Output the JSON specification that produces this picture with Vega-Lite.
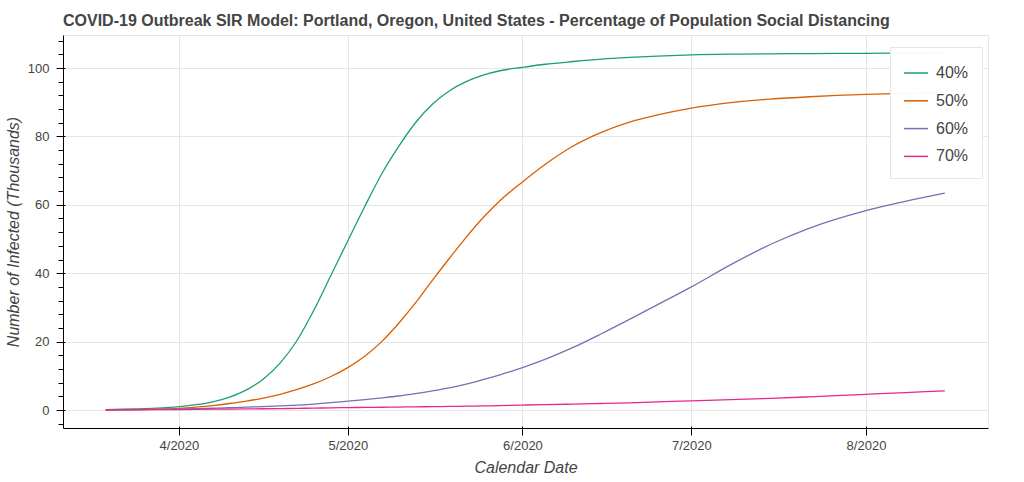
{
  "$schema": "https://vega.github.io/schema/vega-lite/v6.json",
  "width": 925,
  "height": 393,
  "autosize": {"type": "none"},
  "padding": {"left": 63, "top": 35, "right": 36, "bottom": 54},
  "background": "white",
  "config": {"font": "Liberation Sans", "view": {"stroke": "#e5e5e5"}},
  "title": {
    "text": "COVID-19 Outbreak SIR Model: Portland, Oregon, United States - Percentage of Population Social Distancing",
    "anchor": "start",
    "frame": "group",
    "fontSize": 16,
    "fontWeight": "bold",
    "color": "#444444",
    "baseline": "alphabetic",
    "offset": -7
  },
  "datasets": {
    "sir": [
      {"date": "2020/03/19", "pct": "40%", "infected": 0.14},
      {"date": "2020/03/22", "pct": "40%", "infected": 0.22},
      {"date": "2020/03/25", "pct": "40%", "infected": 0.35},
      {"date": "2020/03/28", "pct": "40%", "infected": 0.55},
      {"date": "2020/04/01", "pct": "40%", "infected": 1.0},
      {"date": "2020/04/04", "pct": "40%", "infected": 1.55},
      {"date": "2020/04/07", "pct": "40%", "infected": 2.4},
      {"date": "2020/04/10", "pct": "40%", "infected": 3.8},
      {"date": "2020/04/13", "pct": "40%", "infected": 5.9},
      {"date": "2020/04/16", "pct": "40%", "infected": 9.1},
      {"date": "2020/04/19", "pct": "40%", "infected": 13.8},
      {"date": "2020/04/22", "pct": "40%", "infected": 20.4},
      {"date": "2020/04/25", "pct": "40%", "infected": 29.3},
      {"date": "2020/04/28", "pct": "40%", "infected": 39.4},
      {"date": "2020/05/01", "pct": "40%", "infected": 49.5},
      {"date": "2020/05/04", "pct": "40%", "infected": 59.5},
      {"date": "2020/05/07", "pct": "40%", "infected": 69.0},
      {"date": "2020/05/10", "pct": "40%", "infected": 77.0},
      {"date": "2020/05/13", "pct": "40%", "infected": 84.0},
      {"date": "2020/05/16", "pct": "40%", "infected": 89.4},
      {"date": "2020/05/19", "pct": "40%", "infected": 93.3},
      {"date": "2020/05/22", "pct": "40%", "infected": 96.0},
      {"date": "2020/05/25", "pct": "40%", "infected": 97.9},
      {"date": "2020/05/28", "pct": "40%", "infected": 99.2},
      {"date": "2020/06/01", "pct": "40%", "infected": 100.2},
      {"date": "2020/06/05", "pct": "40%", "infected": 101.1},
      {"date": "2020/06/10", "pct": "40%", "infected": 101.9},
      {"date": "2020/06/15", "pct": "40%", "infected": 102.6},
      {"date": "2020/06/20", "pct": "40%", "infected": 103.1},
      {"date": "2020/06/25", "pct": "40%", "infected": 103.5},
      {"date": "2020/07/01", "pct": "40%", "infected": 103.85},
      {"date": "2020/07/08", "pct": "40%", "infected": 104.05},
      {"date": "2020/07/15", "pct": "40%", "infected": 104.15},
      {"date": "2020/07/22", "pct": "40%", "infected": 104.22},
      {"date": "2020/08/01", "pct": "40%", "infected": 104.3},
      {"date": "2020/08/08", "pct": "40%", "infected": 104.35},
      {"date": "2020/08/15", "pct": "40%", "infected": 104.4},

      {"date": "2020/03/19", "pct": "50%", "infected": 0.05},
      {"date": "2020/03/22", "pct": "50%", "infected": 0.1},
      {"date": "2020/03/25", "pct": "50%", "infected": 0.18},
      {"date": "2020/03/28", "pct": "50%", "infected": 0.3},
      {"date": "2020/04/01", "pct": "50%", "infected": 0.5},
      {"date": "2020/04/04", "pct": "50%", "infected": 0.85},
      {"date": "2020/04/07", "pct": "50%", "infected": 1.3},
      {"date": "2020/04/10", "pct": "50%", "infected": 1.9},
      {"date": "2020/04/13", "pct": "50%", "infected": 2.6},
      {"date": "2020/04/16", "pct": "50%", "infected": 3.5},
      {"date": "2020/04/19", "pct": "50%", "infected": 4.6},
      {"date": "2020/04/22", "pct": "50%", "infected": 6.0},
      {"date": "2020/04/25", "pct": "50%", "infected": 7.7},
      {"date": "2020/04/28", "pct": "50%", "infected": 9.8},
      {"date": "2020/05/01", "pct": "50%", "infected": 12.4},
      {"date": "2020/05/04", "pct": "50%", "infected": 15.7},
      {"date": "2020/05/07", "pct": "50%", "infected": 20.0},
      {"date": "2020/05/10", "pct": "50%", "infected": 25.3},
      {"date": "2020/05/13", "pct": "50%", "infected": 31.3},
      {"date": "2020/05/16", "pct": "50%", "infected": 37.9},
      {"date": "2020/05/19", "pct": "50%", "infected": 44.3},
      {"date": "2020/05/22", "pct": "50%", "infected": 50.5},
      {"date": "2020/05/25", "pct": "50%", "infected": 56.2},
      {"date": "2020/05/28", "pct": "50%", "infected": 61.2},
      {"date": "2020/06/01", "pct": "50%", "infected": 66.7},
      {"date": "2020/06/05", "pct": "50%", "infected": 71.8},
      {"date": "2020/06/10", "pct": "50%", "infected": 77.2},
      {"date": "2020/06/15", "pct": "50%", "infected": 81.2},
      {"date": "2020/06/20", "pct": "50%", "infected": 84.2},
      {"date": "2020/06/25", "pct": "50%", "infected": 86.3},
      {"date": "2020/07/01", "pct": "50%", "infected": 88.3},
      {"date": "2020/07/08", "pct": "50%", "infected": 89.9},
      {"date": "2020/07/15", "pct": "50%", "infected": 90.9},
      {"date": "2020/07/22", "pct": "50%", "infected": 91.6},
      {"date": "2020/08/01", "pct": "50%", "infected": 92.3},
      {"date": "2020/08/08", "pct": "50%", "infected": 92.6},
      {"date": "2020/08/15", "pct": "50%", "infected": 92.8},

      {"date": "2020/03/19", "pct": "60%", "infected": 0.03},
      {"date": "2020/03/22", "pct": "60%", "infected": 0.08},
      {"date": "2020/03/25", "pct": "60%", "infected": 0.13},
      {"date": "2020/03/28", "pct": "60%", "infected": 0.2},
      {"date": "2020/04/01", "pct": "60%", "infected": 0.3},
      {"date": "2020/04/04", "pct": "60%", "infected": 0.4},
      {"date": "2020/04/07", "pct": "60%", "infected": 0.52},
      {"date": "2020/04/10", "pct": "60%", "infected": 0.66},
      {"date": "2020/04/13", "pct": "60%", "infected": 0.82},
      {"date": "2020/04/16", "pct": "60%", "infected": 1.0},
      {"date": "2020/04/19", "pct": "60%", "infected": 1.2},
      {"date": "2020/04/22", "pct": "60%", "infected": 1.45},
      {"date": "2020/04/25", "pct": "60%", "infected": 1.75},
      {"date": "2020/04/28", "pct": "60%", "infected": 2.15},
      {"date": "2020/05/01", "pct": "60%", "infected": 2.6},
      {"date": "2020/05/04", "pct": "60%", "infected": 3.05},
      {"date": "2020/05/07", "pct": "60%", "infected": 3.55},
      {"date": "2020/05/10", "pct": "60%", "infected": 4.1},
      {"date": "2020/05/13", "pct": "60%", "infected": 4.8},
      {"date": "2020/05/16", "pct": "60%", "infected": 5.6},
      {"date": "2020/05/19", "pct": "60%", "infected": 6.5},
      {"date": "2020/05/22", "pct": "60%", "infected": 7.6},
      {"date": "2020/05/25", "pct": "60%", "infected": 8.9},
      {"date": "2020/05/28", "pct": "60%", "infected": 10.3},
      {"date": "2020/06/01", "pct": "60%", "infected": 12.4},
      {"date": "2020/06/05", "pct": "60%", "infected": 14.8},
      {"date": "2020/06/10", "pct": "60%", "infected": 18.3},
      {"date": "2020/06/15", "pct": "60%", "infected": 22.3},
      {"date": "2020/06/20", "pct": "60%", "infected": 26.5},
      {"date": "2020/06/25", "pct": "60%", "infected": 30.8},
      {"date": "2020/07/01", "pct": "60%", "infected": 36.0},
      {"date": "2020/07/08", "pct": "60%", "infected": 42.5},
      {"date": "2020/07/15", "pct": "60%", "infected": 48.4},
      {"date": "2020/07/22", "pct": "60%", "infected": 53.2},
      {"date": "2020/08/01", "pct": "60%", "infected": 58.3},
      {"date": "2020/08/08", "pct": "60%", "infected": 61.0},
      {"date": "2020/08/15", "pct": "60%", "infected": 63.4},

      {"date": "2020/03/19", "pct": "70%", "infected": 0.01},
      {"date": "2020/03/22", "pct": "70%", "infected": 0.04},
      {"date": "2020/03/25", "pct": "70%", "infected": 0.07},
      {"date": "2020/03/28", "pct": "70%", "infected": 0.1},
      {"date": "2020/04/01", "pct": "70%", "infected": 0.15},
      {"date": "2020/04/04", "pct": "70%", "infected": 0.19},
      {"date": "2020/04/07", "pct": "70%", "infected": 0.23},
      {"date": "2020/04/10", "pct": "70%", "infected": 0.28},
      {"date": "2020/04/13", "pct": "70%", "infected": 0.32},
      {"date": "2020/04/16", "pct": "70%", "infected": 0.37},
      {"date": "2020/04/19", "pct": "70%", "infected": 0.42},
      {"date": "2020/04/22", "pct": "70%", "infected": 0.48},
      {"date": "2020/04/25", "pct": "70%", "infected": 0.55},
      {"date": "2020/04/28", "pct": "70%", "infected": 0.62},
      {"date": "2020/05/01", "pct": "70%", "infected": 0.7},
      {"date": "2020/05/04", "pct": "70%", "infected": 0.75},
      {"date": "2020/05/07", "pct": "70%", "infected": 0.8},
      {"date": "2020/05/10", "pct": "70%", "infected": 0.86},
      {"date": "2020/05/13", "pct": "70%", "infected": 0.92},
      {"date": "2020/05/16", "pct": "70%", "infected": 0.98},
      {"date": "2020/05/19", "pct": "70%", "infected": 1.05},
      {"date": "2020/05/22", "pct": "70%", "infected": 1.12},
      {"date": "2020/05/25", "pct": "70%", "infected": 1.2},
      {"date": "2020/05/28", "pct": "70%", "infected": 1.3},
      {"date": "2020/06/01", "pct": "70%", "infected": 1.45},
      {"date": "2020/06/05", "pct": "70%", "infected": 1.55},
      {"date": "2020/06/10", "pct": "70%", "infected": 1.72},
      {"date": "2020/06/15", "pct": "70%", "infected": 1.9},
      {"date": "2020/06/20", "pct": "70%", "infected": 2.1},
      {"date": "2020/06/25", "pct": "70%", "infected": 2.35},
      {"date": "2020/07/01", "pct": "70%", "infected": 2.7},
      {"date": "2020/07/08", "pct": "70%", "infected": 3.05},
      {"date": "2020/07/15", "pct": "70%", "infected": 3.4},
      {"date": "2020/07/22", "pct": "70%", "infected": 3.85},
      {"date": "2020/08/01", "pct": "70%", "infected": 4.6},
      {"date": "2020/08/08", "pct": "70%", "infected": 5.1},
      {"date": "2020/08/15", "pct": "70%", "infected": 5.6}
    ],
    "blank": [{}]
  },
  "layer": [
    {
      "data": {"name": "sir"},
      "mark": {"type": "line", "strokeWidth": 1.3, "interpolate": "monotone"},
      "encoding": {
        "x": {
          "field": "date",
          "type": "temporal",
          "scale": {"domain": [{"year": 2020, "month": 3, "date": 11, "hours": 10}, {"year": 2020, "month": 8, "date": 22, "hours": 16}]},
          "axis": {
            "orient": "bottom",
            "values": [{"year": 2020, "month": 4, "date": 1}, {"year": 2020, "month": 5, "date": 1}, {"year": 2020, "month": 6, "date": 1}, {"year": 2020, "month": 7, "date": 1}, {"year": 2020, "month": 8, "date": 1}],
            "format": "%-m/%Y",
            "grid": true,
            "gridColor": "#e5e5e5",
            "domainColor": "#000000",
            "tickColor": "#000000",
            "tickSize": 7,
            "labelFontSize": 13,
            "labelColor": "#444444",
            "labelPadding": 4,
            "title": "Calendar Date",
            "titleFontSize": 16,
            "titleFontStyle": "italic",
            "titleFontWeight": "normal",
            "titleColor": "#444444",
            "titlePadding": 7
          }
        },
        "y": {
          "field": "infected",
          "type": "quantitative",
          "scale": {"domain": [-5.26, 109.65], "nice": false, "zero": false},
          "axis": {
            "orient": "left",
            "values": [0, 20, 40, 60, 80, 100],
            "grid": true,
            "gridColor": "#e5e5e5",
            "domainColor": "#000000",
            "tickColor": "#000000",
            "tickSize": 7,
            "labelFontSize": 13,
            "labelColor": "#444444",
            "labelPadding": 7,
            "title": "Number of Infected (Thousands)",
            "titleFontSize": 16,
            "titleFontStyle": "italic",
            "titleFontWeight": "normal",
            "titleColor": "#444444",
            "titlePadding": 6
          }
        },
        "color": {
          "field": "pct",
          "type": "nominal",
          "scale": {"domain": ["40%", "50%", "60%", "70%"], "range": ["#1b9e77", "#d95f02", "#7570b3", "#e7298a"]},
          "legend": {
            "orient": "none",
            "legendX": 827,
            "legendY": 12,
            "title": null,
            "fillColor": "rgba(255,255,255,0.95)",
            "strokeColor": "#e5e5e5",
            "padding": 13,
            "symbolType": "stroke",
            "symbolSize": 576,
            "symbolStrokeWidth": 1.5,
            "labelFontSize": 16,
            "labelColor": "#444444",
            "labelOffset": 7,
            "rowPadding": 6.8
          }
        }
      }
    },
    {
      "data": {"name": "blank"},
      "mark": {"type": "rule", "opacity": 0},
      "encoding": {
        "y": {
          "datum": 0,
          "type": "quantitative",
          "scale": {"domain": [-5.26, 109.65], "nice": false, "zero": false},
          "axis": {
            "orient": "left",
            "values": [-4, 4, 8, 12, 16, 24, 28, 32, 36, 44, 48, 52, 56, 64, 68, 72, 76, 84, 88, 92, 96, 104, 108],
            "labels": false,
            "grid": false,
            "domain": false,
            "tickColor": "#000000",
            "tickSize": 5,
            "title": null
          }
        }
      }
    },
    {
      "data": {"name": "blank"},
      "mark": {"type": "rule", "opacity": 0},
      "encoding": {
        "y": {
          "datum": 0,
          "type": "quantitative",
          "scale": {"domain": [-5.26, 109.65], "nice": false, "zero": false},
          "axis": {
            "orient": "left",
            "values": [0, 20, 40, 60, 80, 100],
            "labels": false,
            "grid": false,
            "domain": false,
            "tickColor": "#000000",
            "tickSize": -2,
            "title": null
          }
        }
      }
    },
    {
      "data": {"name": "blank"},
      "mark": {"type": "rule", "opacity": 0},
      "encoding": {
        "x": {
          "datum": {"year": 2020, "month": 4, "date": 1},
          "type": "temporal",
          "scale": {"domain": [{"year": 2020, "month": 3, "date": 11, "hours": 10}, {"year": 2020, "month": 8, "date": 22, "hours": 16}]},
          "axis": {
            "orient": "bottom",
            "values": [{"year": 2020, "month": 4, "date": 1}, {"year": 2020, "month": 5, "date": 1}, {"year": 2020, "month": 6, "date": 1}, {"year": 2020, "month": 7, "date": 1}, {"year": 2020, "month": 8, "date": 1}],
            "labels": false,
            "grid": false,
            "domain": false,
            "tickColor": "#000000",
            "tickSize": -2,
            "title": null
          }
        }
      }
    }
  ],
  "resolve": {"axis": {"x": "independent", "y": "independent"}}
}
